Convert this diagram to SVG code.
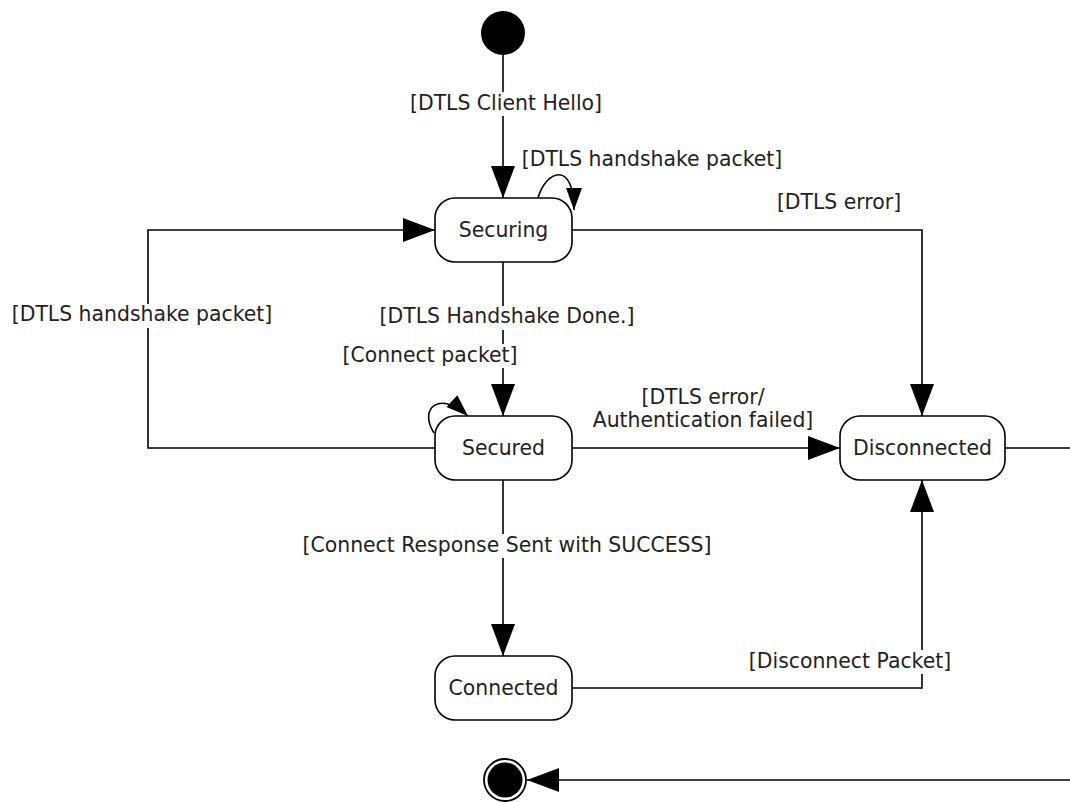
<svg xmlns="http://www.w3.org/2000/svg" width="1070" height="802" viewBox="0 0 1070 802">
<style>
.node rect{fill:#fff;stroke:#000;stroke-width:1.6}
text{font-family:"DejaVu Sans","Verdana",sans-serif;font-size:20.4px;fill:#222}
.lbl{text-anchor:middle}
.bg{fill:#fff;stroke:none}
.edge{fill:none;stroke:#000;stroke-width:1.6}
</style>
<defs>
<marker id="big" markerUnits="userSpaceOnUse" markerWidth="32" markerHeight="24" viewBox="0 0 32 24" refX="32" refY="12" orient="auto">
<path d="M0,0 L32,12 L0,24 z" fill="#000"/>
</marker>
<marker id="small" markerUnits="userSpaceOnUse" markerWidth="22" markerHeight="16" viewBox="0 0 22 16" refX="22" refY="8" orient="auto">
<path d="M0,0 L22,8 L0,16 z" fill="#000"/>
</marker>
</defs>

<g id="connectors">
<path class="edge" d="M503,55 V198" marker-end="url(#big)"/>
<path class="edge" d="M538,198 C546,170 574,160 574,210" marker-end="url(#small)"/>
<path class="edge" d="M572,230 H922 V416" marker-end="url(#big)"/>
<path class="edge" d="M503,262 V416" marker-end="url(#big)"/>
<path class="edge" d="M435,448 H148 V230 H435" marker-end="url(#big)"/>
<path class="edge" d="M434,433 C418,408 440,390 468,416" marker-end="url(#small)"/>
<path class="edge" d="M572,448 H840" marker-end="url(#big)"/>
<path class="edge" d="M503,480 V656" marker-end="url(#big)"/>
<path class="edge" d="M572,688 H922 V480" marker-end="url(#big)"/>
<path class="edge" d="M1005,448 H1070"/>
<path class="edge" d="M1070,780 H527" marker-end="url(#big)"/>
</g>

<g id="edge-labels">
<rect class="bg" x="406" y="92" width="202" height="24"/>
<text class="lbl" x="506" y="110">[DTLS Client Hello]</text>
<text class="lbl" x="652" y="166">[DTLS handshake packet]</text>
<text class="lbl" x="839" y="209">[DTLS error]</text>
<rect class="bg" x="8" y="304" width="270" height="24"/>
<text class="lbl" x="142" y="321">[DTLS handshake packet]</text>
<rect class="bg" x="374" y="306" width="266" height="24"/>
<text class="lbl" x="507" y="323">[DTLS Handshake Done.]</text>
<rect class="bg" x="339" y="344" width="182" height="24"/>
<text class="lbl" x="430" y="362">[Connect packet]</text>
<text class="lbl" x="703" y="404">[DTLS error/</text>
<text class="lbl" x="703" y="427">Authentication failed]</text>
<rect class="bg" x="297" y="534" width="420" height="24"/>
<text class="lbl" x="507" y="552">[Connect Response Sent with SUCCESS]</text>
<rect class="bg" x="745" y="650" width="210" height="24"/>
<text class="lbl" x="850" y="668">[Disconnect Packet]</text>
</g>

<g id="initial"><circle cx="503" cy="33" r="22" fill="#000"/></g>
<g id="final">
<circle cx="505" cy="780" r="21" fill="#fff" stroke="#000" stroke-width="1.8"/>
<circle cx="505" cy="780" r="17.5" fill="#000"/>
</g>

<g id="securing" class="node"><rect x="435" y="198" width="137" height="64" rx="20"/><text class="lbl" x="503.5" y="237">Securing</text></g>
<g id="secured" class="node"><rect x="435" y="416" width="137" height="64" rx="20"/><text class="lbl" x="503.5" y="455">Secured</text></g>
<g id="disconnected" class="node"><rect x="840" y="416" width="165" height="64" rx="20"/><text class="lbl" x="922.5" y="455">Disconnected</text></g>
<g id="connected" class="node"><rect x="435" y="656" width="137" height="64" rx="20"/><text class="lbl" x="503.5" y="695">Connected</text></g>
</svg>
